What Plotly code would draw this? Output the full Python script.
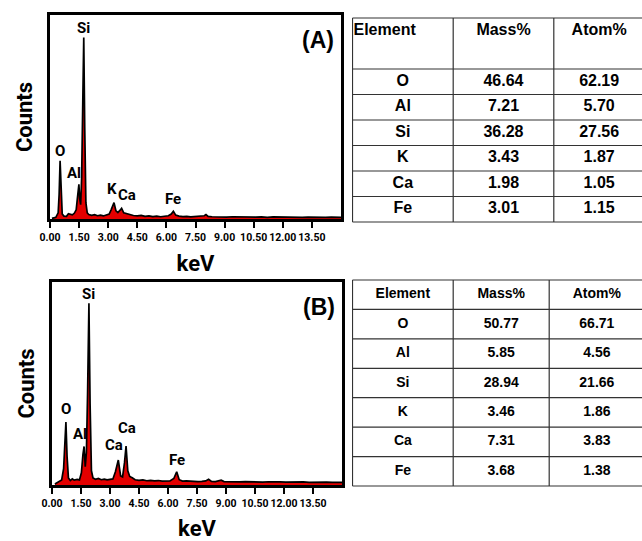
import plotly.graph_objects as go

# ---------------- data ----------------
energy_a = [0.10, 0.30, 0.42, 0.47, 0.52, 0.57, 0.63, 0.72, 0.85, 0.95, 1.05, 1.15, 1.25, 1.35, 1.41, 1.46, 1.49,
            1.53, 1.58, 1.63, 1.68, 1.74, 1.79, 1.85, 1.92, 2.00, 2.15, 2.30, 2.45, 2.60, 2.75, 2.90, 3.05, 3.15,
            3.30, 3.40, 3.50, 3.60, 3.69, 3.80, 3.95, 4.10, 4.30, 4.50, 4.70, 4.90, 5.10, 5.30, 5.50, 5.70, 5.90,
            6.10, 6.25, 6.36, 6.48, 6.65, 6.85, 7.05, 7.25, 7.45, 7.65, 7.85, 7.95, 8.04, 8.15, 8.35, 8.60, 8.85,
            9.10, 9.40, 9.70, 10.00, 10.30, 10.60, 10.90, 11.20, 11.50, 11.80, 12.10, 12.40, 12.70, 13.00, 13.30,
            13.60, 13.90, 14.20, 14.50, 14.80, 15.00]
counts_a = [0.3, 0.8, 3.0, 12.0, 28.5, 11.0, 2.5, 1.4, 1.3, 2.6, 2.2, 2.0, 2.8, 4.5, 10.0, 16.0, 17.0,
            10.0, 7.0, 20.0, 55.0, 89.0, 45.0, 8.0, 3.0, 2.2, 1.8, 2.1, 1.6, 1.9, 1.5, 1.8, 2.4, 4.5,
            8.0, 4.0, 3.2, 4.2, 5.2, 3.0, 2.6, 2.0, 1.7, 1.5, 1.8, 1.3, 1.5, 1.2, 1.4, 1.1, 1.3,
            1.6, 2.4, 3.8, 1.9, 1.4, 1.2, 1.3, 1.0, 1.2, 1.1, 1.3, 1.6, 2.2, 1.3, 1.1, 1.0, 1.2,
            0.9, 1.1, 1.0, 0.9, 1.1, 0.9, 1.0, 0.8, 1.0, 0.9, 0.8, 1.0, 0.9, 0.8, 0.9,
            0.8, 0.9, 0.8, 0.9, 0.8, 0.8]

energy_b = [0.15, 0.35, 0.50, 0.60, 0.66, 0.72, 0.78, 0.85, 0.95, 1.05, 1.15, 1.30, 1.42, 1.52, 1.60, 1.66,
            1.72, 1.78, 1.84, 1.91, 1.97, 2.04, 2.12, 2.25, 2.40, 2.55, 2.70, 2.85, 3.00, 3.15, 3.28, 3.43,
            3.55, 3.65, 3.75, 3.83, 3.92, 4.02, 4.15, 4.30, 4.50, 4.70, 4.90, 5.10, 5.30, 5.50, 5.70, 5.90,
            6.10, 6.30, 6.45, 6.58, 6.75, 6.95, 7.15, 7.35, 7.55, 7.75, 7.95, 8.10, 8.25, 8.45, 8.65, 8.75,
            8.90, 9.10, 9.40, 9.70, 10.00, 10.30, 10.60, 10.90, 11.20, 11.50, 11.80, 12.10, 12.40, 12.70,
            13.00, 13.30, 13.60, 13.90, 14.20, 14.50, 14.80, 15.00]
counts_b = [0.5, 1.5, 2.5, 8.0, 22.0, 31.0, 14.0, 3.5, 2.2, 3.0, 2.4, 2.8, 2.5, 6.0, 15.0, 19.0,
            9.0, 16.0, 45.0, 89.5, 40.0, 7.0, 3.5, 2.8, 3.2, 2.6, 2.9, 2.5, 2.8, 3.0, 6.5, 12.3,
            4.5, 4.0, 11.0, 19.2, 7.0, 4.2, 3.6, 2.6, 2.3, 2.5, 2.1, 2.3, 2.0, 2.2, 1.9, 2.1,
            2.0, 3.2, 6.5, 2.6, 1.9, 2.0, 1.8, 1.9, 1.7, 1.8, 2.0, 2.8, 1.8, 1.7, 2.0, 2.4,
            1.7, 1.6, 1.8, 1.5, 1.7, 1.5, 1.6, 1.4, 1.6, 1.4, 1.5, 1.4, 1.5, 1.3,
            1.5, 1.3, 1.4, 1.3, 1.4, 1.3, 1.4, 1.3]

peak_names_a = ["O", "Al", "Si", "K", "Ca", "Fe"]
peak_x_a = [0.52, 1.26, 1.72, 3.18, 3.95, 6.33]
peak_y_a = [28.0, 17.0, 88.0, 9.5, 6.5, 4.5]

peak_names_b = ["O", "Al", "Si", "Ca", "Ca", "Fe"]
peak_x_b = [0.74, 1.45, 1.91, 3.20, 3.86, 6.45]
peak_y_b = [32.0, 19.5, 88.5, 14.5, 22.5, 7.0]

tick_vals = [0, 1.5, 3, 4.5, 6, 7.5, 9, 10.5, 12, 13.5]
tick_text = ["0.00", "1.50", "3.00", "4.50", "6.00", "7.50", "9.00", "10.50", "12.00", "13.50"]

table_cols = ["Element", "Mass%", "Atom%"]
elements = ["O", "Al", "Si", "K", "Ca", "Fe"]
mass_a = ["46.64", "7.21", "36.28", "3.43", "1.98", "3.01"]
atom_a = ["62.19", "5.70", "27.56", "1.87", "1.05", "1.15"]
mass_b = ["50.77", "5.85", "28.94", "3.46", "7.31", "3.68"]
atom_b = ["66.71", "4.56", "21.66", "1.86", "3.83", "1.38"]

# ---------------- figure ----------------
W, H = 642, 541
FONT = "Roboto, Liberation Sans, sans-serif"
ARIAL = "Liberation Sans, Arial, sans-serif"

fig = go.Figure()

for xa, ya, ex, cy in [("x", "y", energy_a, counts_a), ("x2", "y2", energy_b, counts_b)]:
    fig.add_trace(go.Scatter(x=ex, y=cy, mode="lines", fill="tozeroy",
                             fillcolor="#e30000", line=dict(color="black", width=1.7),
                             xaxis=xa, yaxis=ya, showlegend=False, hoverinfo="skip"))


def add_table(xa, ya, col_edges, row_edges, header_align_first, cols, font_family, font_size):
    gx, gy = [], []
    for yv in row_edges:
        gx += [col_edges[0], col_edges[-1], None]
        gy += [yv, yv, None]
    for xv in col_edges:
        gx += [xv, xv, None]
        gy += [row_edges[0], row_edges[-1], None]
    fig.add_trace(go.Scatter(x=gx, y=gy, mode="lines", line=dict(color="#333333", width=1.2),
                             xaxis=xa, yaxis=ya, showlegend=False, hoverinfo="skip"))
    tx, ty, tt, tp = [], [], [], []
    for ci, col in enumerate(cols):
        for ri, val in enumerate(col):
            top, bot = row_edges[ri], row_edges[ri + 1]
            if ri == 0 and header_align_first and ci == 0:
                tx.append(col_edges[ci] + 1)
                tp.append("middle right")
            else:
                tx.append((col_edges[ci] + col_edges[ci + 1]) / 2)
                tp.append("middle center")
            if ri == 0 and header_align_first:
                ty.append(top + 13)
            else:
                ty.append((top + bot) / 2)
            tt.append("<b>%s</b>" % val)
    fig.add_trace(go.Scatter(x=tx, y=ty, text=tt, mode="text", textposition=tp,
                             textfont=dict(family=font_family, size=font_size, color="black"),
                             xaxis=xa, yaxis=ya, showlegend=False, hoverinfo="skip"))


cols_a = [[table_cols[i]] + c for i, c in enumerate([elements, mass_a, atom_a])]
cols_b = [[table_cols[i]] + c for i, c in enumerate([elements, mass_b, atom_b])]
add_table("x3", "y3", [0, 100.7, 201.3, 292], [0, 51, 76.5, 102, 127.5, 153, 178.5, 204], True,
          cols_a, ARIAL, 16)
add_table("x4", "y4", [0, 100.7, 196.7, 292], [0, 29.4, 58.8, 88.2, 117.6, 147, 176.4, 205.8], False,
          cols_b, ARIAL, 14)


def xaxis_cfg(dom):
    return dict(domain=dom, range=[0, 15], showline=True, linewidth=3, linecolor="black", mirror=True,
                ticks="outside", ticklen=6, tickwidth=2, tickcolor="black", tickangle=0, automargin=False,
                tickvals=tick_vals, ticktext=tick_text, showgrid=False, zeroline=False,
                tickfont=dict(family=FONT, size=10.5, color="black", weight="bold"),
                title=dict(text="keV", standoff=14,
                           font=dict(family=FONT, size=22, color="black", weight="bold")))


def yaxis_cfg(dom):
    return dict(domain=dom, range=[0, 100], showline=True, linewidth=3, linecolor="black", mirror=True,
                showticklabels=False, ticks="", showgrid=False, zeroline=False, automargin=False,
                title=dict(text="Counts", standoff=9,
                           font=dict(family=FONT, size=22, color="black", weight="bold")))


hidden = dict(visible=False, showgrid=False, zeroline=False, fixedrange=True, automargin=False)

fig.update_layout(
    width=W, height=H, margin=dict(l=0, r=0, t=0, b=0, autoexpand=False),
    paper_bgcolor="white", plot_bgcolor="white",
    xaxis=xaxis_cfg([50 / W, 341 / W]), yaxis=dict(yaxis_cfg([1 - 219 / H, 1 - 15 / H]), anchor="x"),
    xaxis2=dict(xaxis_cfg([52 / W, 342 / W]), anchor="y2"),
    yaxis2=dict(yaxis_cfg([1 - 485 / H, 1 - 282 / H]), anchor="x2"),
    xaxis3=dict(hidden, domain=[352 / W, 1.0], range=[-0.5, 289.5], anchor="y3"),
    yaxis3=dict(hidden, domain=[1 - 223 / H, 1 - 17 / H], range=[205, -1], anchor="x3"),
    xaxis4=dict(hidden, domain=[352 / W, 1.0], range=[-0.5, 289.5], anchor="y4"),
    yaxis4=dict(hidden, domain=[1 - 487 / H, 1 - 279 / H], range=[206.8, -1], anchor="x4"),
)

ann = []
for xr, yr, names, xs, ys in [("x", "y", peak_names_a, peak_x_a, peak_y_a),
                              ("x2", "y2", peak_names_b, peak_x_b, peak_y_b)]:
    for n, px, py in zip(names, xs, ys):
        ann.append(dict(xref=xr, yref=yr, x=px, y=py, text=n, showarrow=False, yanchor="bottom",
                        font=dict(family=FONT, size=15, color="black", weight="bold")))
for xr, yr, t in [("x domain", "y domain", "(A)"), ("x2 domain", "y2 domain", "(B)")]:
    ann.append(dict(xref=xr, yref=yr, x=1, y=1, xanchor="right", yanchor="top", xshift=-5, yshift=-10,
                    text="<b>%s</b>" % t, showarrow=False,
                    font=dict(family=ARIAL, size=23, color="black")))
fig.update_layout(annotations=ann)

fig.write_html("out.html", config={"displayModeBar": False},
               post_script="document.body.style.margin='0px';document.body.style.overflow='hidden';")
